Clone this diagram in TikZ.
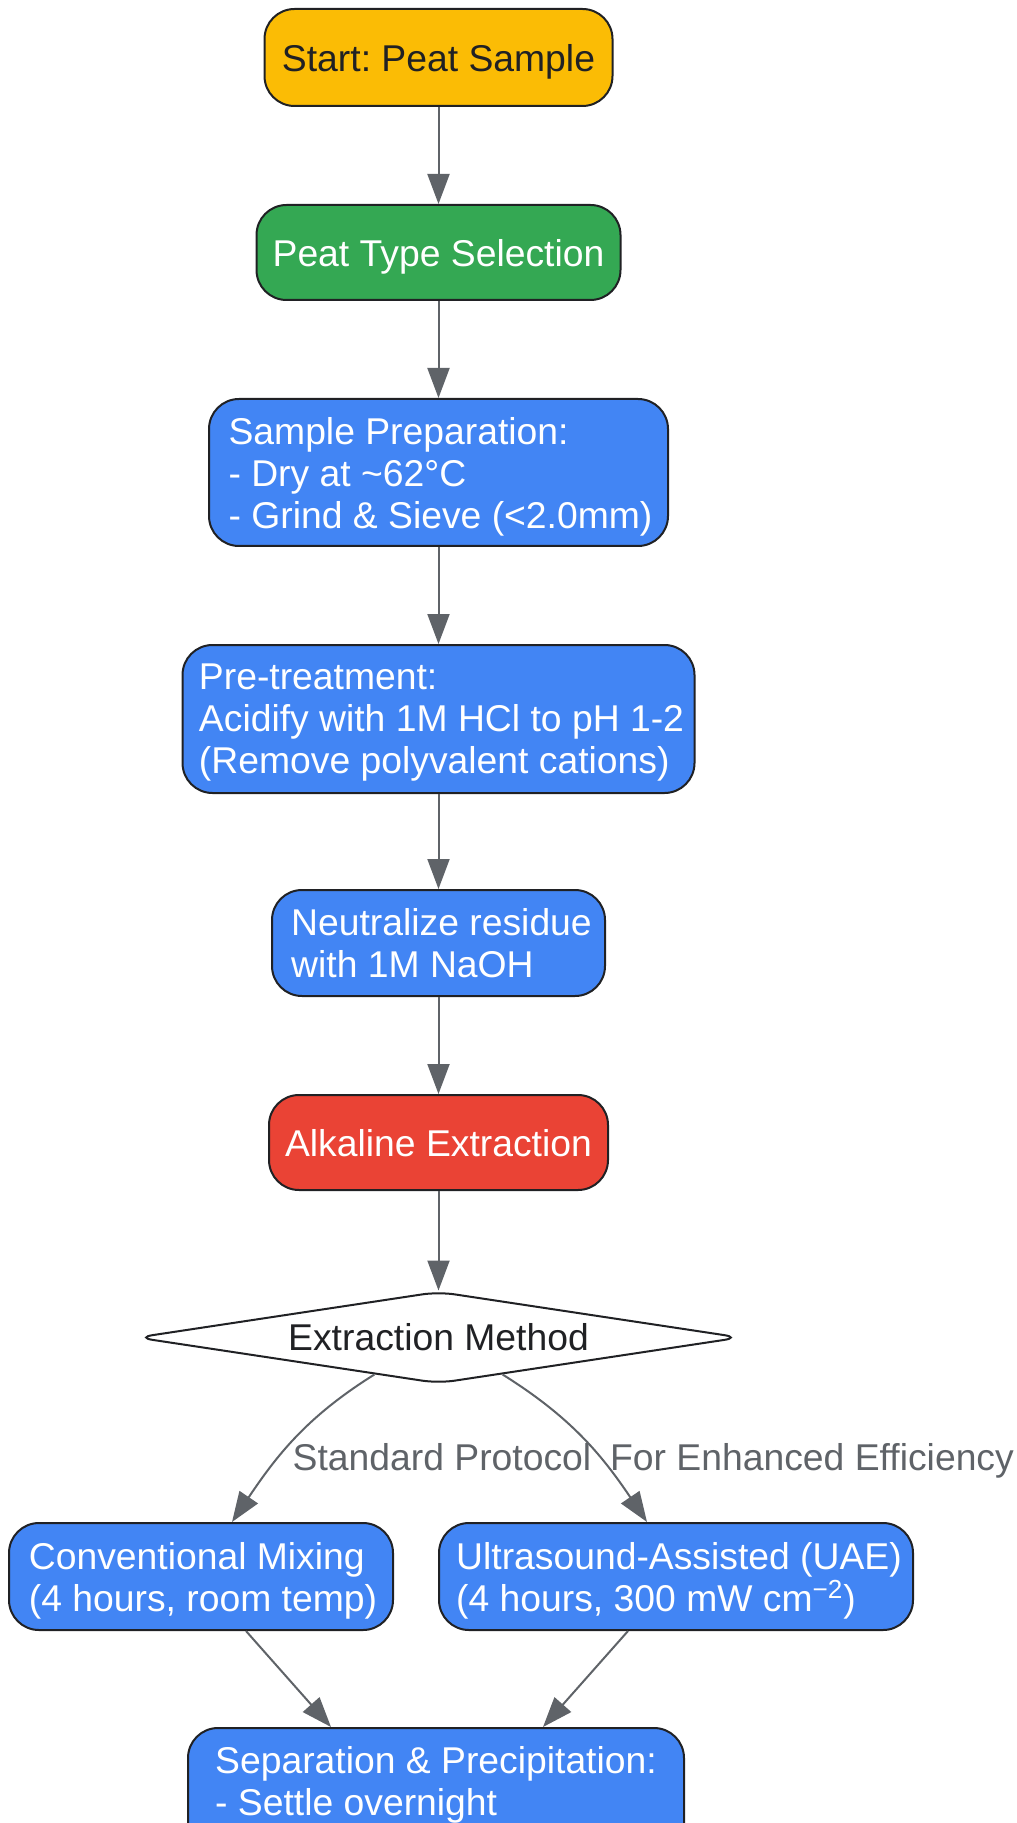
\documentclass[tikz,border=0pt]{standalone}
\usepackage{fontspec}
\setmainfont{Liberation Sans}
\usetikzlibrary{arrows.meta,positioning,shapes.geometric,calc}
\definecolor{peatyellow}{HTML}{FBBC05}
\definecolor{peatgreen}{HTML}{34A853}
\definecolor{peatblue}{HTML}{4285F4}
\definecolor{peatred}{HTML}{EA4335}
\definecolor{peatgrey}{HTML}{5F6368}
\definecolor{peatink}{HTML}{202124}
\frenchspacing

\begin{document}
\begin{tikzpicture}[x=.5pt,y=-.5pt,font=\fontsize{18.65}{21}\selectfont,
  box/.style={draw=peatink,line width=1pt,rounded corners=15pt,text=white,fill=peatblue,text depth=0pt},
  flow/.style={draw=peatgrey,line width=1pt,-{Triangle[length=15pt,width=11pt]}},
  edgelab/.style={text=peatgrey,text depth=0pt}]
  \useasboundingbox (0,0) rectangle (1016,1823);
  \node[box,fill=peatyellow,text=peatink,minimum width=174pt,minimum height=48.5pt] (start) at (438.5,57.5) {Start: Peat Sample};
  \node[box,fill=peatgreen,minimum width=182pt,minimum height=47.5pt] (ptype) at (438.5,252.5) {Peat Type Selection};
  \node[box,align=left,minimum width=229.5pt,minimum height=73.5pt] (prep) at (438.5,472.5) {\hspace*{2pt}Sample Preparation:\\\hspace*{2pt}- Dry at \textasciitilde62°C\\\hspace*{2pt}- Grind \& Sieve (<2.0mm)};
  \node[box,align=left,minimum width=256pt,minimum height=74pt] (pretreat) at (438.5,719) {\hspace*{3pt}Pre-treatment:\\\hspace*{3pt}Acidify with 1M HCl to pH 1-2\\\hspace*{3pt}(Remove polyvalent cations)};
  \node[box,align=left,minimum width=166.5pt,minimum height=53pt] (neutral) at (438.5,943) {\hspace*{3pt}Neutralize residue\\\hspace*{3pt}with 1M NaOH};
  \node[box,fill=peatred,minimum width=169.5pt,minimum height=47.5pt] (alkaline) at (438.5,1142.5) {Alkaline Extraction};
  \node[diamond,draw=peatink,line width=1pt,fill=white,rounded corners=8pt,aspect=6.7,inner sep=0pt,
    minimum width=302pt,minimum height=46pt,text=peatink] (method) at (438.5,1337.5) {Extraction Method};
  \node[box,align=left,minimum width=192pt,minimum height=53.5pt] (conv) at (201,1576.5) {\hspace*{2pt}Conventional Mixing\\\hspace*{2pt}(4 hours, room temp)};
  \node[box,align=left,minimum width=237pt,minimum height=53.5pt] (uae) at (676,1576.5) {\hspace*{3pt}Ultrasound-Assisted (UAE)\\\hspace*{3pt}(4 hours, 300 mW cm\textsuperscript{−2})};
  \node[box,align=left,anchor=north,minimum width=248pt,inner ysep=9pt,text depth=60pt] (sep) at (436,1727) {Separation \& Precipitation:\\- Settle overnight};
  \node[edgelab] (stdlab) at (442,1457) {Standard Protocol};
  \node[edgelab] (efflab) at (812,1457) {For Enhanced Efficiency};
  \draw[flow] (start.south) -- (ptype.north);
  \draw[flow] (ptype.south) -- (prep.north);
  \draw[flow] (prep.south) -- (pretreat.north);
  \draw[flow] (pretreat.south) -- (neutral.north);
  \draw[flow] (neutral.south) -- (alkaline.north);
  \draw[flow] (alkaline.south) -- (method.north);
  \draw[flow] (method.-150) to[out=-148,in=56] ([xshift=15.5pt]conv.north);
  \draw[flow] (method.-30) to[out=-32,in=124] ([xshift=-14.5pt]uae.north);
  \draw[flow] ([xshift=22.5pt]conv.south) -- ([xshift=-52.5pt]sep.north);
  \draw[flow] ([xshift=-24pt]uae.south) -- ([xshift=53.5pt]sep.north);
\end{tikzpicture}
\end{document}
